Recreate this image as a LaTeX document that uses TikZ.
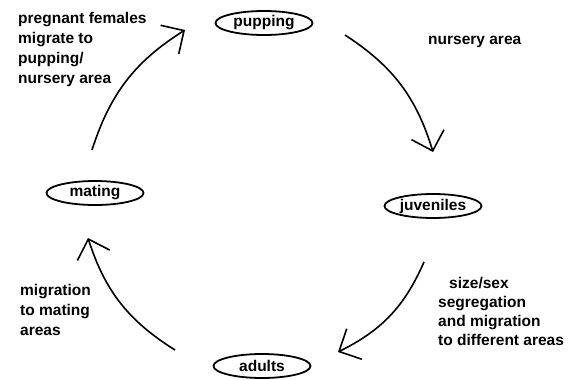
\documentclass[tikz,border=0pt]{standalone}
\usepackage{fontspec}
\setmainfont{Liberation Sans}
\usetikzlibrary{shapes.geometric,arrows.meta}
\begin{document}
\begin{tikzpicture}[x=1pt,y=1pt,
  font=\fontsize{15.5}{20}\selectfont\bfseries,
  stage/.style={ellipse,draw,line width=1.8pt,minimum width=97pt,minimum height=24pt,inner sep=0pt},
  lbl/.style={anchor=north west,align=left,inner sep=0pt},
  flow/.style={line width=1.6pt,-{Straight Barb[length=17pt,width=34pt]},bend left=20}]
\useasboundingbox (0,0) rectangle (570,-380);
\node[stage] (pup) at (264,-23) {pupping};
\node[stage] (juv) at (433,-206) {juveniles};
\node[stage] (mat) at (95,-193) {mating};
\node[stage] (adu) at (262,-366) {adults};
\coordinate (a1s) at (92,-150); \coordinate (a1e) at (185,-30);
\coordinate (a2s) at (345,-35); \coordinate (a2e) at (433,-152);
\coordinate (a3s) at (424,-262); \coordinate (a3e) at (338,-352);
\coordinate (a4s) at (175,-350); \coordinate (a4e) at (88,-238);
\draw[flow] (a1s) to (a1e);
\draw[flow] (a2s) to (a2e);
\draw[flow] (a3s) to (a3e);
\draw[flow] (a4s) to (a4e);
\node[lbl] (l1) at (18,-12) {pregnant females\\migrate to\\pupping/\\nursery area};
\node[lbl] (l2) at (428,-36) {nursery area};
\node[lbl] (l3) at (20,-284) {migration\\to mating\\areas};
\node[lbl,font=\fontsize{15.5}{19}\selectfont\bfseries] (l4) at (438,-277) {\hspace*{11pt}size/sex\\segregation\\and migration\\to different areas};
\end{tikzpicture}
\end{document}
